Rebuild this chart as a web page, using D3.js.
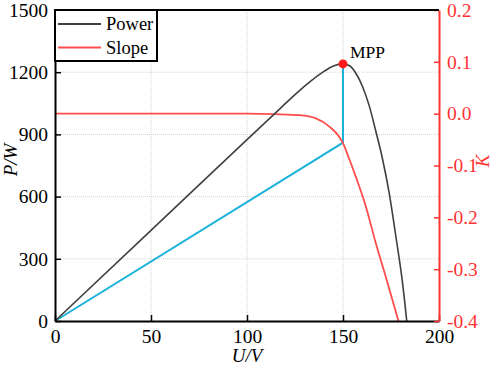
<!DOCTYPE html>
<html>
<head>
<meta charset="utf-8">
<script src="https://cdn.jsdelivr.net/npm/d3@7"></script>
</head>
<body style="margin:0; background:white">
<div id="vizContainer"></div>
<script>
let w = 498;
let h = 365;
let margin = {left: 55, top: 10, right: 59, bottom: 44};

// power curve (U in V, P in W)
let powerU = [0, 50, 100, 115, 123, 131.6, 140.3, 145, 150, 153.2, 156.7, 160.2, 163.6, 167.1, 170.5, 174, 177.5, 181, 183.2];
let powerP = [0, 437, 875, 1005, 1075, 1145, 1205, 1230, 1240, 1232, 1195, 1130, 1040, 915, 785, 620, 410, 185, 0];

// slope curve (right axis K)
let slopeU = [0, 100, 115, 127.3, 135.9, 142.9, 148.1, 150, 153, 156.7, 161.9, 167.1, 172.3, 178.9];
let slopeK = [0, 0, -0.001, -0.003, -0.009, -0.025, -0.045, -0.057, -0.085, -0.122, -0.179, -0.25, -0.315, -0.4];

// cyan helper line, origin -> (150, 860) -> MPP
let helpU = [0, 150, 150];
let helpP = [0, 860, 1240];

let mppU = 150;
let mppP = 1240;

let xTicks = [0, 50, 100, 150, 200];
let yTicks = [0, 300, 600, 900, 1200, 1500];
let kTicks = [0.2, 0.1, 0.0, -0.1, -0.2, -0.3, -0.4];

let legendNames = ["Power", "Slope"];
let legendColors = ["#404040", "#ff4d4d"];

let serif = "'Liberation Serif'";

let viz = d3.select('#vizContainer').append('svg')
	.attr('width', w)
	.attr('height', h)
	;

let x0 = margin.left;
let x1 = w - margin.right;
let y0 = h - margin.bottom;
let y1 = margin.top;

let xScale = d3.scaleLinear().domain([0, 200]).range([x0, x1]);
let yScale = d3.scaleLinear().domain([0, 1500]).range([y0, y1]);
let kScale = d3.scaleLinear().domain([-0.4, 0.2]).range([y0, y1]);

// grid
let grid = viz.append('g').attr('class', 'grid');
grid.selectAll('.vg').data([50, 100, 150]).enter().append('line')
	.attr('x1', d => xScale(d)).attr('x2', d => xScale(d))
	.attr('y1', y0).attr('y2', y1)
	.attr('stroke', '#d4d4d4').attr('stroke-width', 1).attr('stroke-dasharray', '1,1')
	;
grid.selectAll('.hg').data([300, 600, 900, 1200]).enter().append('line')
	.attr('x1', x0).attr('x2', x1)
	.attr('y1', d => yScale(d)).attr('y2', d => yScale(d))
	.attr('stroke', '#d4d4d4').attr('stroke-width', 1).attr('stroke-dasharray', '1,1')
	;

// lines
let powerLine = d3.line()
	.x(d => xScale(d[0]))
	.y(d => yScale(d[1]))
	.curve(d3.curveMonotoneX);

let slopeLine = d3.line()
	.x(d => xScale(d[0]))
	.y(d => kScale(d[1]))
	.curve(d3.curveMonotoneX);

viz.append('path')
	.datum(helpU.map((u, i) => [u, helpP[i]]))
	.attr('d', d3.line().x(d => xScale(d[0])).y(d => yScale(d[1])))
	.attr('fill', 'none')
	.attr('stroke', '#1ab2d8')
	.attr('stroke-width', 2)
	;

viz.append('path')
	.datum(slopeU.map((u, i) => [u, slopeK[i]]))
	.attr('d', slopeLine)
	.attr('fill', 'none')
	.attr('stroke', legendColors[1])
	.attr('stroke-width', 1.8)
	;

viz.append('path')
	.datum(powerU.map((u, i) => [u, powerP[i]]))
	.attr('d', powerLine)
	.attr('fill', 'none')
	.attr('stroke', legendColors[0])
	.attr('stroke-width', 1.6)
	;

viz.append('circle')
	.attr('cx', xScale(mppU))
	.attr('cy', yScale(mppP))
	.attr('r', 4.5)
	.attr('fill', '#ff1a1a')
	;

viz.append('text')
	.attr('x', xScale(mppU) + 7)
	.attr('y', yScale(mppP) - 6)
	.attr('font-size', 17.5)
	.style('font-family', serif)
	.text('MPP')
	;

// axes
let fontSize = 19.5;

let bottomAxis = viz.append('g')
	.attr('transform', 'translate(0,' + y0 + ')')
	.call(d3.axisBottom(xScale).tickValues(xTicks).tickSizeInner(-6).tickSizeOuter(0).tickPadding(8)
		.tickFormat(d3.format('d')));

let leftAxis = viz.append('g')
	.attr('transform', 'translate(' + x0 + ',0)')
	.call(d3.axisLeft(yScale).tickValues(yTicks).tickSizeInner(-6).tickSizeOuter(0).tickPadding(7)
		.tickFormat(d3.format('d')));

let rightAxis = viz.append('g')
	.attr('transform', 'translate(' + x1 + ',0)')
	.call(d3.axisRight(kScale).tickValues(kTicks).tickSizeInner(-5).tickSizeOuter(0).tickPadding(8)
		.tickFormat(d => d.toFixed(1)));

[bottomAxis, leftAxis, rightAxis].forEach(function(a){
	a.attr('font-family', null).attr('font-size', null);
	a.selectAll('.tick text').attr('font-size', fontSize).style('font-family', serif);
});

[bottomAxis, leftAxis].forEach(function(a){
	a.select('.domain').attr('stroke', 'black').attr('stroke-width', 2);
	a.selectAll('.tick line').attr('stroke', 'black').attr('stroke-width', 1.5);
	a.selectAll('.tick text').attr('fill', 'black');
});

rightAxis.select('.domain').attr('stroke', '#ff3333').attr('stroke-width', 2);
rightAxis.selectAll('.tick line').attr('stroke', '#ff3333').attr('stroke-width', 1.5);
rightAxis.selectAll('.tick text').attr('fill', '#ff3333');

// top border
viz.append('line')
	.attr('x1', x0).attr('x2', x1)
	.attr('y1', y1).attr('y2', y1)
	.attr('stroke', 'black').attr('stroke-width', 2)
	;

// axis titles
viz.append('text')
	.attr('x', (x0 + x1) / 2)
	.attr('y', 362)
	.attr('text-anchor', 'middle')
	.attr('font-size', 19)
	.attr('font-style', 'italic')
	.style('font-family', serif)
	.text('U/V')
	;

viz.append('text')
	.attr('transform', 'translate(17,' + 160 + ') rotate(-90)')
	.attr('text-anchor', 'middle')
	.attr('font-size', 19)
	.attr('font-style', 'italic')
	.style('font-family', serif)
	.text('P/W')
	;

viz.append('text')
	.attr('transform', 'translate(489,' + 161 + ') rotate(-90)')
	.attr('text-anchor', 'middle')
	.attr('font-size', 19)
	.attr('font-style', 'italic')
	.style('font-family', serif)
	.attr('fill', '#ff3333')
	.text('K')
	;

// legend
let legend = viz.append('g').attr('class', 'legend');
legend.append('rect')
	.attr('x', x0).attr('y', y1)
	.attr('width', 102).attr('height', 51)
	.attr('fill', 'white')
	.attr('stroke', 'black').attr('stroke-width', 2)
	;

let items = legend.selectAll('.item').data(legendNames).enter().append('g')
	.attr('transform', (d, i) => 'translate(0,' + (24 + i * 23.5) + ')');

items.append('line')
	.attr('x1', 58).attr('x2', 101)
	.attr('y1', 0).attr('y2', 0)
	.attr('stroke', (d, i) => legendColors[i])
	.attr('stroke-width', 2)
	;

items.append('text')
	.attr('x', 106)
	.attr('y', 6)
	.attr('font-size', 18.5)
	.style('font-family', serif)
	.text(d => d)
	;
</script>
</body>
</html>
